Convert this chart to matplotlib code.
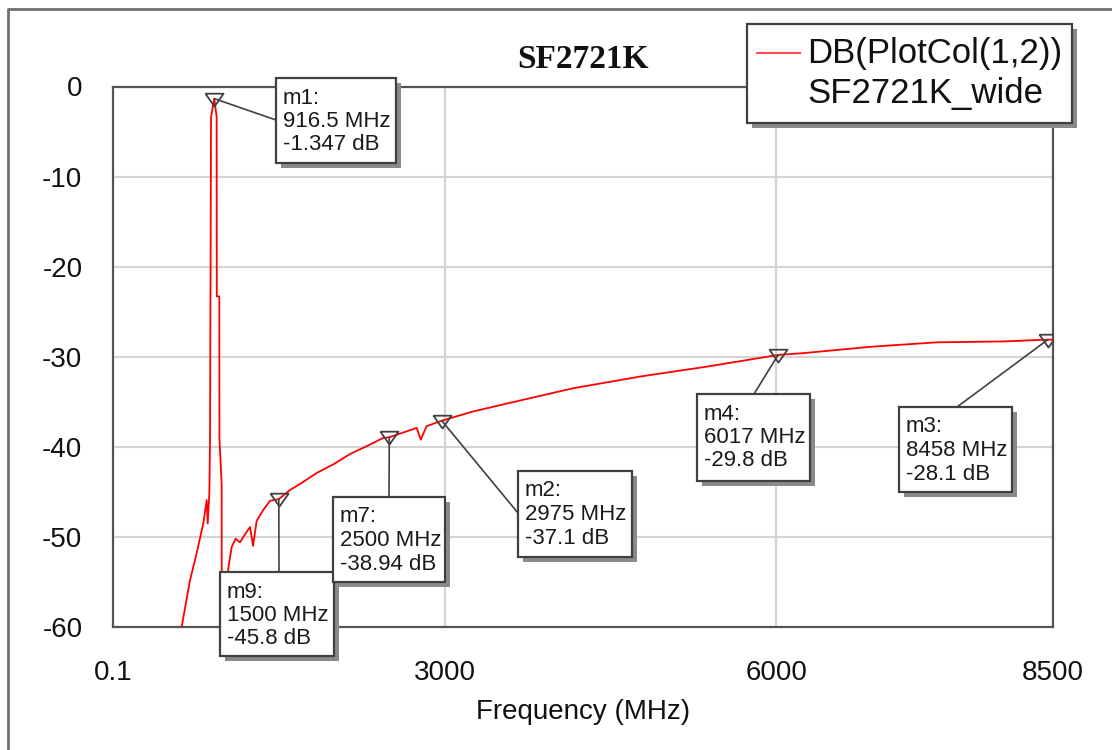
import matplotlib.pyplot as plt
from matplotlib.patches import Rectangle
from matplotlib.lines import Line2D

# --- data ---
freq = [600, 621, 697, 757, 817, 848, 857, 872, 878, 887, 916.5, 938, 939, 962, 963,
        983, 984, 1000, 1030, 1043, 1074, 1110, 1149, 1200, 1240, 1267, 1300, 1360,
        1420, 1500, 1601, 1720, 1843, 2000, 2144, 2300, 2446, 2500, 2748, 2784, 2838,
        2975, 3250, 3562, 4162, 4768, 5371, 6017, 6245, 6849, 7452, 8052, 8458, 8500]
db = [-63, -60, -54.8, -51.8, -48.5, -45.9, -48.5, -45.1, -38.9, -3.4, -1.347, -3.4, -23.3, -23.3, -39,
      -44.1, -62, -62, -62, -53.5, -51.1, -50.2, -50.6, -49.6, -48.9, -51.0, -48.2, -47.0,
      -46.0, -45.8, -44.8, -43.9, -42.9, -41.9, -40.8, -39.9, -39.0, -38.94, -37.9, -39.2, -37.7,
      -37.1, -36.1, -35.2, -33.5, -32.2, -31.1, -29.8, -29.6, -28.9, -28.4, -28.3, -28.1, -28.1]

mk_names = ["m1", "m9", "m7", "m2", "m4", "m3"]
mk_freq = [916.5, 1500, 2500, 2975, 6017, 8458]
mk_db = [-1.347, -45.8, -38.94, -37.1, -29.8, -28.1]

xticks = [0.1, 3000, 6000, 8500]
xtick_labels = ["0.1", "3000", "6000", "8500"]
yticks = [0, -10, -20, -30, -40, -50, -60]

# --- layout (image pixels, origin top-left) ---
W, H = 1112, 750
# marker box: left, top, right, bottom, leader start x, y
boxes = {
    "m1": (276, 78, 396, 163, 276, 120),
    "m9": (220, 572, 334, 656, 279, 572),
    "m7": (333, 497, 445, 582, 389, 497),
    "m2": (518, 471, 632, 557, 518, 513),
    "m4": (697, 394, 810, 481, 754, 394),
    "m3": (899, 407, 1012, 492, 957, 407),
}


def fx(x):
    return x / W


def fy(y):
    return 1 - y / H


plt.rcParams['font.family'] = ['Liberation Sans', 'DejaVu Sans']
plt.rcParams['axes.unicode_minus'] = False

fig = plt.figure(figsize=(W / 100, H / 100), dpi=100)
ax = fig.add_axes([fx(113), fy(627), (1052.5 - 113) / W, (627 - 86.5) / H])

ax.plot(freq, db, color='#ff0000', lw=1.3, zorder=3)

tri = [(-1.4, 0.9), (1.4, 0.9), (0, -1.1), (-1.4, 0.9)]
ax.plot(mk_freq, mk_db, ls='none', marker=tri, markersize=13, mfc='none',
        mec='#404040', mew=1.3, zorder=4)

ax.set_xlim(0.1, 8500)
ax.set_ylim(-60, 0)
ax.set_xticks(xticks)
ax.set_xticklabels(xtick_labels)
ax.set_yticks(yticks)
ax.tick_params(length=0, labelsize=20, colors='#111111')
ax.tick_params(axis='y', pad=22)
ax.tick_params(axis='x', pad=24)
ax.grid(True, color='#d4d4d4', lw=1.5)
ax.set_axisbelow(True)
for s in ax.spines.values():
    s.set_color('#555555')
    s.set_linewidth(1.6)
ax.set_xlabel("Frequency (MHz)", fontsize=20, color='#111111', labelpad=9)

fig.text(fx(583), fy(60), "SF2721K", family='Liberation Serif', fontweight='bold',
         fontsize=24, ha='center', va='center', color='#111111')

# leader lines
for name, f, d in zip(mk_names, mk_freq, mk_db):
    b = boxes[name]
    ax.annotate('', xy=(f, d), xycoords='data', xytext=(fx(b[4]), fy(b[5])),
                textcoords='figure fraction',
                arrowprops=dict(arrowstyle='-', color='#404040', lw=1.2,
                                shrinkA=0, shrinkB=0), zorder=5)


def shadow_box(l, t, r, b, z=6):
    fig.add_artist(Rectangle((fx(l + 5), fy(b + 5)), (r - l) / W, (b - t) / H,
                             transform=fig.transFigure, fc='#8a8a8a', ec='none',
                             zorder=z))
    fig.add_artist(Rectangle((fx(l), fy(b)), (r - l) / W, (b - t) / H,
                             transform=fig.transFigure, fc='white', ec='#404040',
                             lw=1.6, zorder=z + 0.1))


for name, f, d in zip(mk_names, mk_freq, mk_db):
    l, t, r, b = boxes[name][:4]
    shadow_box(l, t, r, b)
    lines = [name + ":", f"{f:g} MHz", f"{d:g} dB"]
    for i, s in enumerate(lines):
        fig.text(fx(l + 7), fy(t + 20 + 23.5 * i), s, fontsize=16, ha='left',
                 va='center', color='#1a1a1a', zorder=7)

# legend
shadow_box(747, 24, 1072, 123)
fig.add_artist(Line2D([fx(757), fx(800)], [fy(53), fy(53)], color='#ff5050', lw=1.5,
                      transform=fig.transFigure, zorder=7))
fig.text(fx(807), fy(54), "DB(PlotCol(1,2))", fontsize=25, ha='left', va='center',
         color='#111111', zorder=7)
fig.text(fx(807), fy(94), "SF2721K_wide", fontsize=25, ha='left', va='center',
         color='#111111', zorder=7)

# outer frame (left and top edges visible)
fig.add_artist(Line2D([fx(7.5), fx(7.5), fx(W + 5)], [fy(H + 5), fy(8.5), fy(8.5)],
                      color='#707070', lw=2, transform=fig.transFigure, zorder=8))

fig.savefig("out.png", dpi=100)
